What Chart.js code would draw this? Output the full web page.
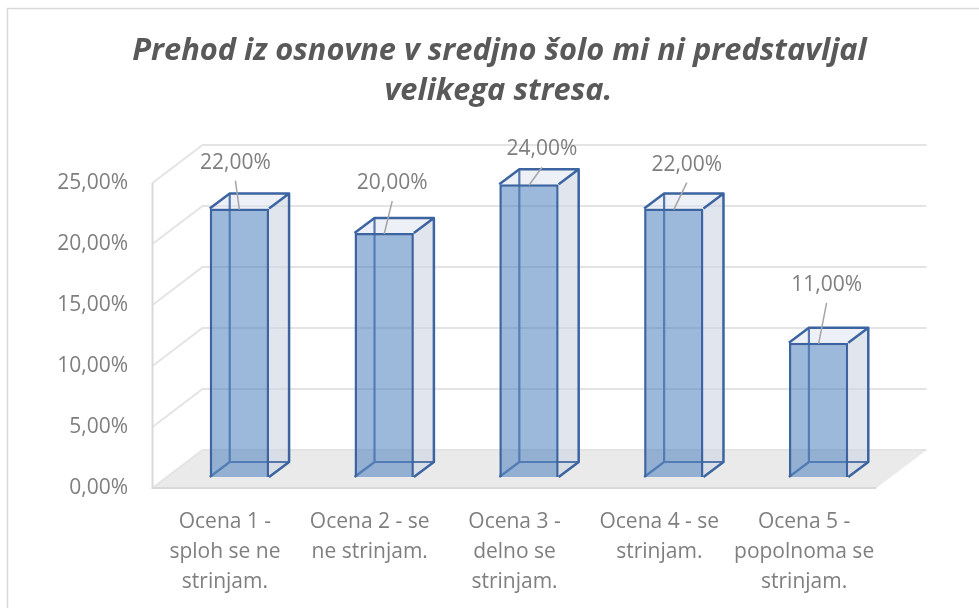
<!DOCTYPE html>
<html>
<head>
<meta charset="utf-8">
<script src="https://cdn.jsdelivr.net/npm/chart.js@4/dist/chart.umd.min.js"></script>
<style>
  html, body { margin: 0; padding: 0; background: #ffffff; }
  #wrap { position: relative; width: 979px; height: 608px; }
</style>
</head>
<body>
<div id="wrap"><canvas id="chart"></canvas></div>
<script>
const titleLines = ["Prehod iz osnovne v sredjno šolo mi ni predstavljal", "velikega stresa."];
const categories = [
  ["Ocena 1 -", "sploh se ne", "strinjam."],
  ["Ocena 2 - se", "ne strinjam."],
  ["Ocena 3 -", "delno se", "strinjam."],
  ["Ocena 4 - se", "strinjam."],
  ["Ocena 5 -", "popolnoma se", "strinjam."]
];
const shares = [22, 20, 24, 22, 11];
const axisMin = 0;
const axisMax = 25;
const axisStep = 5;

// fake 3D: offsets from the plane Chart.js draws the bars in
const front = { x: -14.5, y: 11 };
const back = { x: 35.5, y: -27 };
const barDepth = { x: 20, y: -15 };
// where Excel put each data label, relative to the bar's top
const labelNudge = [[-4, -46], [8, -50], [13, -35], [13, -44], [8, -58]];

const edgeBlue = "#3B64A0";
const grey = "#7F7F7F";

const fmt = (v) => v.toFixed(2).replace(".", ",") + "%";

const box3d = {
  id: "box3d",
  beforeDraw(chart) {
    const { ctx } = chart;
    ctx.save();
    ctx.strokeStyle = "#D9D9D9";
    ctx.lineWidth = 1.5;
    ctx.strokeRect(7.5, 8.5, 1100, 800);

    // title, centred like the Excel original (a bit right of canvas centre)
    ctx.fillStyle = "#595959";
    ctx.font = "italic bold 30.8px 'Open Sans'";
    ctx.textAlign = "center";
    ctx.textBaseline = "middle";
    ctx.fillText(titleLines[0], 499.5, 51);
    ctx.fillText(titleLines[1], 498.5, 91);
    ctx.restore();
  },
  beforeDatasetsDraw(chart) {
    const { ctx, chartArea: a, scales } = chart;
    const y = scales.y;
    const base = y.getPixelForValue(axisMin);
    const top = y.getPixelForValue(axisMax);
    ctx.save();

    // floor
    ctx.fillStyle = "#EAEAEA";
    ctx.beginPath();
    ctx.moveTo(a.left + front.x, base + front.y);
    ctx.lineTo(a.right + front.x, base + front.y);
    ctx.lineTo(a.right + back.x, base + back.y);
    ctx.lineTo(a.left + back.x, base + back.y);
    ctx.closePath();
    ctx.fill();

    // grid on side wall and back wall
    ctx.strokeStyle = "#E4E4E4";
    ctx.lineWidth = 2;
    y.ticks.forEach((t) => {
      const p = y.getPixelForValue(t.value);
      ctx.beginPath();
      ctx.moveTo(a.left + front.x, p + front.y);
      ctx.lineTo(a.left + back.x, p + back.y);
      ctx.lineTo(a.right + back.x, p + back.y);
      ctx.stroke();
    });

    // side wall front edge and floor front edge
    ctx.strokeStyle = "#D9D9D9";
    ctx.lineWidth = 2;
    ctx.beginPath();
    ctx.moveTo(a.left + front.x, top + front.y);
    ctx.lineTo(a.left + front.x, base + front.y);
    ctx.lineTo(a.right + front.x, base + front.y);
    ctx.stroke();

    // side, top and hidden edges of each bar
    ctx.lineJoin = "round";
    chart.getDatasetMeta(0).data.forEach((bar) => {
      const { x, y: t, base: b, width: w } = bar.getProps(["x", "y", "base", "width"], true);
      const l = x - w / 2;
      const r = x + w / 2;
      const dx = barDepth.x;
      const dy = barDepth.y;

      ctx.fillStyle = "rgba(205, 212, 226, 0.6)";
      ctx.beginPath();
      ctx.moveTo(r, t);
      ctx.lineTo(r + dx, t + dy);
      ctx.lineTo(r + dx, b + dy);
      ctx.lineTo(r, b);
      ctx.closePath();
      ctx.fill();

      ctx.fillStyle = "rgba(220, 226, 238, 0.5)";
      ctx.beginPath();
      ctx.moveTo(l, t);
      ctx.lineTo(l + dx, t + dy);
      ctx.lineTo(r + dx, t + dy);
      ctx.lineTo(r, t);
      ctx.closePath();
      ctx.fill();

      // hidden edges, seen through the front face
      ctx.strokeStyle = "rgba(59, 100, 160, 0.85)";
      ctx.lineWidth = 2.2;
      ctx.beginPath();
      ctx.moveTo(l + dx, t + dy);
      ctx.lineTo(l + dx, b + dy);
      ctx.lineTo(r + dx, b + dy);
      ctx.moveTo(l, b);
      ctx.lineTo(l + dx, b + dy);
      ctx.stroke();

      // visible outline of top and side
      ctx.strokeStyle = edgeBlue;
      ctx.lineWidth = 2.5;
      ctx.beginPath();
      ctx.moveTo(l, t);
      ctx.lineTo(l + dx, t + dy);
      ctx.lineTo(r + dx, t + dy);
      ctx.lineTo(r, t);
      ctx.moveTo(r + dx, t + dy);
      ctx.lineTo(r + dx, b + dy);
      ctx.lineTo(r, b);
      ctx.stroke();
    });
    ctx.restore();
  },
  afterDatasetsDraw(chart) {
    const { ctx } = chart;
    ctx.save();
    ctx.font = "21px 'Open Sans'";
    ctx.fillStyle = grey;
    ctx.textAlign = "center";
    ctx.textBaseline = "middle";
    chart.getDatasetMeta(0).data.forEach((bar, i) => {
      const { x, y } = bar.getProps(["x", "y"], true);
      const [nx, ny] = labelNudge[i];
      const lx = x + nx;
      const ly = y + ny;
      ctx.strokeStyle = "#A6A6A6";
      ctx.lineWidth = 1.5;
      ctx.beginPath();
      ctx.moveTo(lx, ly + 18);
      ctx.lineTo(x, y + 1);
      ctx.stroke();
      ctx.fillText(fmt(shares[i]), lx, ly);
    });
    ctx.restore();
  }
};

new Chart(document.getElementById("chart"), {
  type: "bar",
  data: {
    labels: categories,
    datasets: [
      {
        data: shares,
        backgroundColor: "rgba(79, 129, 189, 0.56)",
        borderColor: edgeBlue,
        borderWidth: 2.5,
        barPercentage: 0.41,
        categoryPercentage: 1
      }
    ]
  },
  options: {
    responsive: true,
    maintainAspectRatio: false,
    animation: false,
    layout: { padding: { left: 0, right: 88, top: 172, bottom: 0 } },
    plugins: {
      legend: { display: false },
      tooltip: { enabled: false },
      title: { display: false }
    },
    scales: {
      x: {
        grid: { display: false, drawTicks: false },
        border: { display: false },
        ticks: {
          color: grey,
          font: { family: "'Open Sans'", size: 21, lineHeight: 1.43 },
          padding: 30,
          labelOffset: front.x,
          maxRotation: 0,
          autoSkip: false
        },
        afterFit(scale) { scale.height = 131; }
      },
      y: {
        min: axisMin,
        max: axisMax,
        grid: { display: false, drawTicks: false },
        border: { display: false },
        ticks: {
          stepSize: axisStep,
          color: grey,
          font: { family: "'Open Sans'", size: 21 },
          padding: 39,
          labelOffset: front.y,
          callback: (v) => fmt(v)
        },
        afterFit(scale) { scale.width = 167; }
      }
    }
  },
  plugins: [box3d]
});
</script>
</body>
</html>
